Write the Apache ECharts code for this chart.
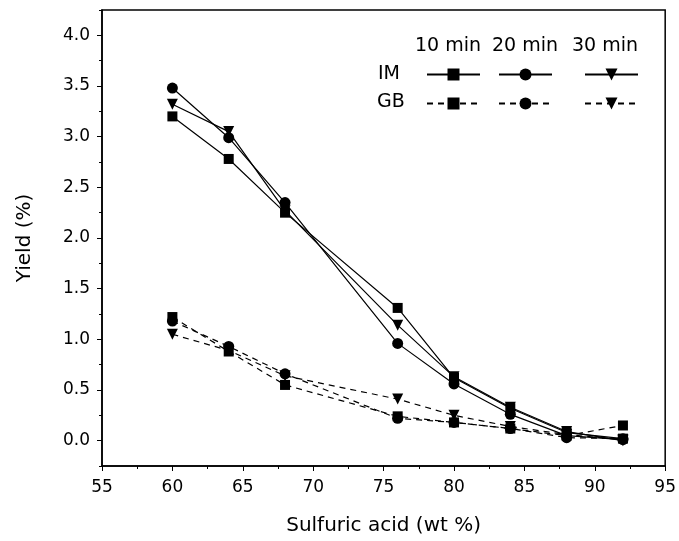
<!DOCTYPE html>
<html lang="en">
<head>
    <meta charset="UTF-8">
    <title>Yield vs sulfuric acid</title>
    <script src="https://cdn.jsdelivr.net/npm/echarts@6/dist/echarts.min.js"></script>
    <style>
        html, body { margin: 0; padding: 0; background: #fff; }
        #chart { width: 679px; height: 541px; }
    </style>
</head>
<body>
<div id="chart"></div>
<script type="text/javascript">
    var acid = [60, 64, 68, 76, 80, 84, 88, 92];
    var im10 = [3.20, 2.78, 2.25, 1.31, 0.62, 0.32, 0.08, 0.02];
    var im20 = [3.48, 2.99, 2.35, 0.96, 0.56, 0.26, 0.05, 0.01];
    var im30 = [3.32, 3.05, 2.27, 1.14, 0.63, 0.33, 0.09, 0.00];
    var gb10 = [1.22, 0.88, 0.55, 0.24, 0.18, 0.12, 0.05, 0.15];
    var gb20 = [1.18, 0.93, 0.66, 0.22, 0.18, 0.12, 0.03, 0.02];
    var gb30 = [1.05, 0.89, 0.64, 0.41, 0.25, 0.14, 0.06, 0.01];
    var yMajor = [0, 0.5, 1, 1.5, 2, 2.5, 3, 3.5, 4];
    var yMinor = [-0.25, 0.25, 0.75, 1.25, 1.75, 2.25, 2.75, 3.25, 3.75, 4.25];
    var xMinor = [57.5, 62.5, 67.5, 72.5, 77.5, 82.5, 87.5, 92.5];

    var font = 'DejaVu Sans, Liberation Sans, sans-serif';

    function pairs(vals) {
        return acid.map(function (a, i) { return [a, vals[i]]; });
    }

    function mkSeries(name, vals, symbol, dashed) {
        var size = symbol === 'rect' ? 10 : 11;
        return {
            name: name,
            type: 'line',
            xAxisIndex: 0,
            yAxisIndex: 0,
            data: pairs(vals),
            symbol: symbol,
            symbolRotate: symbol === 'triangle' ? 180 : 0,
            symbolSize: size,
            lineStyle: { color: '#000', width: 1.2, type: dashed ? [6, 5] : 'solid' },
            itemStyle: { color: '#000' },
            z: dashed ? 2 : 3
        };
    }

    var series = [
        mkSeries('IM 10 min', im10, 'rect', false),
        mkSeries('IM 20 min', im20, 'circle', false),
        mkSeries('IM 30 min', im30, 'triangle', false),
        mkSeries('GB 10 min', gb10, 'rect', true),
        mkSeries('GB 20 min', gb20, 'circle', true),
        mkSeries('GB 30 min', gb30, 'triangle', true)
    ];

    // one legend per item so each sits under its column header
    var legendX = [426, 498, 584];
    var legends = [];
    series.forEach(function (s, i) {
        legends.push({
            data: [s.name],
            left: legendX[i % 3],
            top: i < 3 ? 67 : 96,
            itemWidth: 53,
            itemHeight: 15,
            itemGap: 0,
            padding: 0,
            formatter: function () { return ''; },
            textStyle: { fontSize: 1 },
            selectedMode: false
        });
    });

    var myEchart = echarts.init(document.getElementById('chart'));
    var option = {
        backgroundColor: '#fff',
        animation: false,
        textStyle: { fontFamily: font, color: '#000' },
        grid: {
            left: 102, right: 12, top: 10, bottom: 74,
            show: true, borderColor: '#000', borderWidth: 1.5
        },
        legend: legends,
        xAxis: [{
            type: 'value', min: 55, max: 95, interval: 5,
            name: 'Sulfuric acid (wt %)', nameLocation: 'middle', nameGap: 50,
            nameTextStyle: { fontSize: 20, color: '#000', fontFamily: font },
            axisLine: { onZero: false, lineStyle: { color: '#000', width: 1.5 } },
            axisTick: { length: 5, lineStyle: { color: '#000' } },
            axisLabel: { fontSize: 17, color: '#000', margin: 13, fontFamily: font },
            splitLine: { show: false }
        }, {
            type: 'value', min: 55, max: 95, position: 'bottom',
            axisLine: { show: false, onZero: false },
            axisTick: { length: 3, customValues: xMinor, lineStyle: { color: '#000' } },
            axisLabel: { show: false },
            splitLine: { show: false }
        }],
        yAxis: [{
            type: 'value', min: -0.25, max: 4.25,
            name: 'Yield (%)', nameLocation: 'middle', nameGap: 67,
            nameTextStyle: { fontSize: 20, color: '#000', fontFamily: font },
            axisLine: { show: true, onZero: false, lineStyle: { color: '#000', width: 1.5 } },
            axisTick: { length: 5, customValues: yMajor, lineStyle: { color: '#000' } },
            axisLabel: {
                fontSize: 17, color: '#000', margin: 12, fontFamily: font,
                customValues: yMajor,
                formatter: function (v) { return v.toFixed(1); }
            },
            splitLine: { show: false }
        }, {
            type: 'value', min: -0.25, max: 4.25, position: 'left',
            axisLine: { show: false, onZero: false },
            axisTick: { show: true, length: 3, customValues: yMinor, lineStyle: { color: '#000' } },
            axisLabel: { show: false },
            splitLine: { show: false }
        }],
        graphic: [
            { type: 'text', left: 415, top: 37, style: { text: '10 min', font: '19px ' + font, fill: '#000' } },
            { type: 'text', left: 492, top: 37, style: { text: '20 min', font: '19px ' + font, fill: '#000' } },
            { type: 'text', left: 572, top: 37, style: { text: '30 min', font: '19px ' + font, fill: '#000' } },
            { type: 'text', left: 378, top: 65, style: { text: 'IM', font: '19px ' + font, fill: '#000' } },
            { type: 'text', left: 377, top: 93, style: { text: 'GB', font: '19px ' + font, fill: '#000' } }
        ],
        series: series
    };
    myEchart.setOption(option);
</script>
</body>
</html>
